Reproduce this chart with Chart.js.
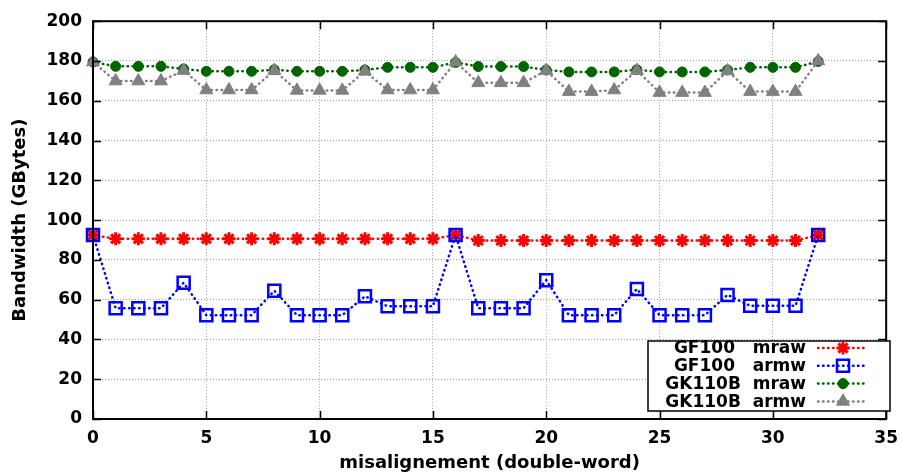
<!DOCTYPE html>
<html>
<head>
<meta charset="utf-8">
<script src="https://cdn.jsdelivr.net/npm/chart.js@4.4.1/dist/chart.umd.min.js"></script>
<style>
  html, body { margin: 0; padding: 0; background: #fff; }
  #wrap { width: 907px; height: 474px; }
</style>
</head>
<body>
<div id="wrap"><canvas id="c" width="907" height="474"></canvas></div>
<script>
const misalignment = [0,1,2,3,4,5,6,7,8,9,10,11,12,13,14,15,16,17,18,19,20,21,22,23,24,25,26,27,28,29,30,31,32];
const gf100Mraw = [92.5, 90.6,90.6,90.6,90.6,90.6,90.6,90.6,90.6,90.6,90.6,90.6,90.6,90.6,90.6,90.6, 92.5,
  89.7,89.7,89.7,89.7,89.7,89.7,89.7,89.7,89.7,89.7,89.7,89.7,89.7,89.7,89.7, 92.5];
const gf100Armw = [92.5, 55.7,55.7,55.7, 68.5, 52.2,52.2,52.2, 64.5, 52.2,52.2,52.2, 61.7, 56.7,56.7,56.7,
  92.5, 55.7,55.7,55.7, 69.8, 52.2,52.2,52.2, 65.4, 52.2,52.2,52.2, 62.4, 56.9,56.9,56.9, 92.5];
const gk110bMraw = [179.5, 177.3,177.3,177.3, 176.0, 174.8,174.8,174.8, 175.6, 174.8,174.8,174.8, 175.5, 176.8,176.8,176.8,
  179.3, 177.2,177.2,177.2, 175.5, 174.5,174.5,174.5, 175.6, 174.5,174.5,174.5, 175.5, 176.8,176.8,176.8, 179.8];
const gk110bArmw = [179.5, 169.9,169.9,169.9, 175.2, 165.4,165.4,165.4, 175.2, 165.2,165.2,165.2, 174.8, 165.4,165.4,165.4,
  179.5, 169.0,169.0,169.0, 175.2, 164.6,164.6,165.4, 175.2, 164.1,164.1,164.1, 175.0, 164.6,164.6,164.6, 180.0];
const seriesLabels = ['GF100   mraw', 'GF100   armw', 'GK110B  mraw', 'GK110B  armw'];
const xTitle = 'misalignement (double-word)';
const yTitle = 'Bandwidth (GBytes)';

const FONT = 'DejaVu Sans';
const pts = arr => arr.map((v, i) => ({ x: misalignment[i], y: v }));

function ds(label, data, color, style, radius, fill, bw, order) {
  return {
    label, data: pts(data), borderColor: color, backgroundColor: fill,
    pointBorderColor: color, pointBackgroundColor: fill,
    pointStyle: style, pointRadius: radius, pointHoverRadius: radius,
    pointBorderWidth: bw, borderWidth: 2.5, borderDash: [0.5, 4.5],
    borderCapStyle: 'round', tension: 0, clip: false, order, fill: false
  };
}

const datasets = [
  ds(seriesLabels[0], gf100Mraw, '#ff0000', 'star', 6.5, '#ff0000', 3, 3),
  ds(seriesLabels[1], gf100Armw, '#0000ff', 'rect', 8.5, 'rgba(0,0,0,0)', 2.5, 2),
  ds(seriesLabels[2], gk110bMraw, '#006400', 'circle', 5, '#006400', 1, 1),
  ds(seriesLabels[3], gk110bArmw, '#808080', 'triangle', 7.5, '#808080', 1, 0)
];

const framePlugin = {
  id: 'frame',
  afterDraw(chart) {
    const ctx = chart.ctx, a = chart.chartArea;
    const xs = chart.scales.x, ys = chart.scales.y;
    ctx.save();
    ctx.strokeStyle = '#000';
    ctx.lineWidth = 2;
    ctx.strokeRect(a.left, a.top, a.right - a.left, a.bottom - a.top);
    const tl = 8;
    ctx.lineWidth = 1.5;
    ctx.beginPath();
    xs.ticks.forEach(t => {
      const px = Math.round(xs.getPixelForValue(t.value)) + 0.5;
      ctx.moveTo(px, a.bottom); ctx.lineTo(px, a.bottom - tl);
      ctx.moveTo(px, a.top); ctx.lineTo(px, a.top + tl);
    });
    ys.ticks.forEach(t => {
      const py = Math.round(ys.getPixelForValue(t.value)) + 0.5;
      ctx.moveTo(a.left, py); ctx.lineTo(a.left + tl, py);
      ctx.moveTo(a.right, py); ctx.lineTo(a.right - tl, py);
    });
    ctx.stroke();

    // key box
    const bx = 648, by = 341, bw = 242, bh = 70;
    ctx.fillStyle = '#fff';
    ctx.fillRect(bx, by, bw, bh);
    ctx.lineWidth = 1.5;
    ctx.strokeStyle = '#000';
    ctx.strokeRect(bx, by, bw, bh);
    const rowH = 17.8, y0 = 348;
    ctx.font = 'bold 17px "' + FONT + '"';
    ctx.textAlign = 'right';
    ctx.textBaseline = 'middle';
    chart.data.datasets.forEach((d, i) => {
      const y = y0 + i * rowH;
      ctx.fillStyle = '#000';
      ctx.fillText(d.label, 806, y + 1);
      ctx.save();
      ctx.strokeStyle = d.borderColor;
      ctx.lineWidth = d.borderWidth;
      ctx.setLineDash(d.borderDash);
      ctx.lineCap = 'round';
      ctx.beginPath();
      ctx.moveTo(818, y); ctx.lineTo(868, y);
      ctx.stroke();
      ctx.restore();
      ctx.save();
      ctx.strokeStyle = d.pointBorderColor;
      ctx.fillStyle = d.pointBackgroundColor;
      ctx.lineWidth = d.pointBorderWidth;
      Chart.helpers.drawPoint(ctx, {
        pointStyle: d.pointStyle, radius: d.pointRadius, rotation: 0, borderWidth: d.pointBorderWidth
      }, 843, y);
      ctx.restore();
    });
    ctx.restore();
  }
};

new Chart(document.getElementById('c'), {
  type: 'line',
  data: { datasets },
  plugins: [framePlugin],
  options: {
    responsive: false,
    animation: false,
    devicePixelRatio: 1,
    layout: { padding: { top: 16, right: 15, left: 0, bottom: 0 } },
    plugins: { legend: { display: false }, tooltip: { enabled: false } },
    scales: {
      x: {
        type: 'linear', min: 0, max: 35,
        ticks: { stepSize: 5, color: '#000', padding: 9, font: { family: FONT, size: 17, weight: 'bold' } },
        grid: { color: '#a0a0a0', lineWidth: 1, drawTicks: false },
        border: { display: false, dash: [1, 2] },
        title: { display: true, text: xTitle, color: '#000', padding: 0, font: { family: FONT, size: 18, weight: 'bold' } },
        afterFit(s) { s.height = 55; }
      },
      y: {
        type: 'linear', min: 0, max: 200,
        ticks: { stepSize: 20, color: '#000', padding: 11, font: { family: FONT, size: 17, weight: 'bold' } },
        grid: { color: '#a0a0a0', lineWidth: 1, drawTicks: false },
        border: { display: false, dash: [1, 2] },
        title: { display: true, text: yTitle, color: '#000', padding: { top: 10, bottom: 0 }, font: { family: FONT, size: 18, weight: 'bold' } },
        afterFit(s) { s.width = 93; }
      }
    }
  }
});
</script>
</body>
</html>
